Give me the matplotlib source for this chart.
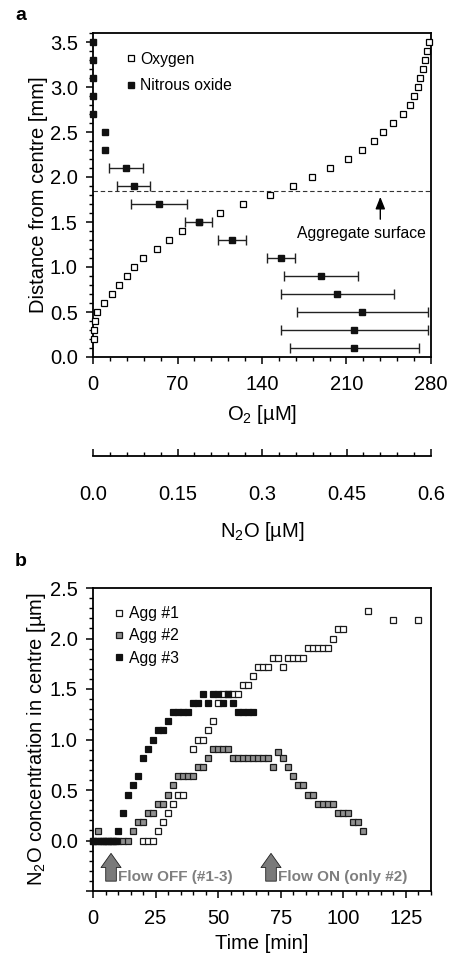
import matplotlib
matplotlib.use('agg')
import matplotlib.pyplot as plt
from matplotlib.ticker import MultipleLocator, FixedLocator, FixedFormatter
import numpy as np

plt.rcParams['font.family'] = ['Liberation Sans', 'DejaVu Sans']
plt.rcParams['font.size'] = 14.5
plt.rcParams['mathtext.fontset'] = 'custom'
plt.rcParams['mathtext.rm'] = 'Liberation Sans'

# panel a: oxygen profile (uM) vs distance from centre (mm)
o2_dist = [0.2, 0.3, 0.4, 0.5, 0.6, 0.7, 0.8, 0.9, 1.0, 1.1, 1.2, 1.3, 1.4, 1.5,
           1.6, 1.7, 1.8, 1.9, 2.0, 2.1, 2.2, 2.3, 2.4, 2.5, 2.6, 2.7, 2.8, 2.9,
           3.0, 3.1, 3.2, 3.3, 3.4, 3.5]
o2_conc = [1, 1, 1.4, 3.3, 8.9, 15.5, 21.3, 28, 33.8, 41.3, 52.7, 63.2, 74, 88,
           105, 124, 147, 166, 181.6, 196, 211.5, 223, 233, 240.6, 248.4, 256.4,
           262.5, 266, 269, 271, 273.6, 275.3, 277, 278]

# panel a: nitrous oxide profile (uM) with error
n2o_dist = [3.5, 3.3, 3.1, 2.9, 2.7, 2.5, 2.3, 2.1, 1.9, 1.7, 1.5, 1.3, 1.1,
            0.9, 0.7, 0.5, 0.3, 0.1]
n2o_conc = [0, 0, 0, 0, 0, 0.022, 0.022, 0.058, 0.072, 0.117, 0.188, 0.247,
            0.333, 0.405, 0.434, 0.478, 0.464, 0.464]
n2o_err = [0, 0, 0, 0, 0, 0, 0, 0.030, 0.030, 0.050, 0.024, 0.025, 0.025,
           0.066, 0.10, 0.116, 0.13, 0.115]

surface = 1.85

# panel b: N2O in centre over time
t1 = [20, 22, 24, 26, 28, 30, 32, 34, 36, 40, 42, 44, 46, 48, 50, 52, 54, 56,
      58, 60, 62, 64, 66, 68, 70, 72, 74, 76, 78, 80, 82, 84, 86, 88, 90, 92,
      94, 96, 98, 100, 110, 120, 130]
c1 = [0, 0, 0, 0.09, 0.18, 0.27, 0.36, 0.45, 0.45, 0.91, 1.0, 1.0, 1.09, 1.18,
      1.36, 1.45, 1.45, 1.45, 1.45, 1.54, 1.54, 1.63, 1.72, 1.72, 1.72, 1.81,
      1.81, 1.72, 1.81, 1.81, 1.81, 1.81, 1.91, 1.91, 1.91, 1.91, 1.91, 2.0,
      2.09, 2.09, 2.27, 2.18, 2.18]

t2 = [0, 2, 4, 6, 8, 10, 12, 14, 16, 18, 20, 22, 24, 26, 28, 30, 32, 34, 36,
      38, 40, 42, 44, 46, 48, 50, 52, 54, 56, 58, 60, 62, 64, 66, 68, 70, 72,
      74, 76, 78, 80, 82, 84, 86, 88, 90, 92, 94, 96, 98, 100, 102, 104, 106,
      108]
c2 = [0, 0.09, 0, 0, 0, 0, 0, 0, 0.09, 0.18, 0.18, 0.27, 0.27, 0.36, 0.36,
      0.45, 0.55, 0.64, 0.64, 0.64, 0.64, 0.73, 0.73, 0.82, 0.91, 0.91, 0.91,
      0.91, 0.82, 0.82, 0.82, 0.82, 0.82, 0.82, 0.82, 0.82, 0.73, 0.88, 0.82,
      0.73, 0.64, 0.55, 0.55, 0.45, 0.45, 0.36, 0.36, 0.36, 0.36, 0.27, 0.27,
      0.27, 0.18, 0.18, 0.09]

t3 = [0, 1, 2, 3, 4, 5, 6, 7, 8, 9, 10, 12, 14, 16, 18, 20, 22, 24, 26, 28,
      30, 32, 34, 36, 38, 40, 42, 44, 46, 48, 50, 52, 54, 56, 58, 60, 62, 64]
c3 = [0, 0, 0, 0, 0, 0, 0, 0, 0, 0, 0.09, 0.27, 0.45, 0.55, 0.64, 0.82, 0.91,
      1.0, 1.09, 1.09, 1.18, 1.27, 1.27, 1.27, 1.27, 1.36, 1.36, 1.45, 1.36,
      1.45, 1.45, 1.36, 1.45, 1.36, 1.27, 1.27, 1.27, 1.27]

fig = plt.figure(figsize=(4.49, 9.56), dpi=100)
W, H = 449.0, 956.0

def style_ax(ax):
    for s in ax.spines.values():
        s.set_linewidth(1.3)
    ax.tick_params(which='major', direction='out', length=5, width=1.1)
    ax.tick_params(which='minor', direction='out', length=3, width=1.0)

# ---------- panel a ----------
ax = fig.add_axes([93 / W, 1 - 357 / H, 338 / W, 324 / H])
style_ax(ax)
ax.set_xlim(0, 280)
ax.set_ylim(0, 3.6)
ax.xaxis.set_major_locator(MultipleLocator(70))
ax.xaxis.set_minor_locator(MultipleLocator(14))
ax.yaxis.set_major_locator(FixedLocator([0, 0.5, 1.0, 1.5, 2.0, 2.5, 3.0, 3.5]))
ax.yaxis.set_major_formatter(FixedFormatter(['0.0', '0.5', '1.0', '1.5', '2.0', '2.5', '3.0', '3.5']))
ax.yaxis.set_minor_locator(MultipleLocator(0.1))
ax.tick_params(axis='x', which='major', pad=8)
ax.tick_params(axis='y', which='major', pad=6)
ax.set_xlabel('O$_2$ [µM]', labelpad=6.5)
ax.set_ylabel('Distance from centre [mm]', labelpad=1)

ax.axhline(surface, color='#333333', lw=0.8, ls=(0, (4, 2.5)), zorder=1)
h_o2, = ax.plot(o2_conc, o2_dist, 's', ms=4.8, mfc='white', mec='black',
                mew=0.9, ls='none', clip_on=False, zorder=3)

axn = ax.twiny()
axn.set_xlim(0, 0.6)
axn.set_ylim(0, 3.6)
axn.axis('off')
has_err = [e > 0 for e in n2o_err]
axn.errorbar([c for c, k in zip(n2o_conc, has_err) if k],
             [d for d, k in zip(n2o_dist, has_err) if k],
             xerr=[e for e, k in zip(n2o_err, has_err) if k], fmt='none',
             ecolor='#222222', elinewidth=1.0, capsize=3.5, capthick=1.0,
             clip_on=False, zorder=3)
h_n2o, = axn.plot(n2o_conc, n2o_dist, 's', ms=4.8, mfc='#111111',
                  mec='#111111', ls='none', clip_on=False, zorder=4)

ax.annotate('', xy=(238, 1.81), xytext=(238, 1.5),
            arrowprops=dict(arrowstyle='-|>,head_length=0.5,head_width=0.2',
                            color='black', lw=1.0))
ax.text(222, 1.37, 'Aggregate surface', ha='center', va='center', fontsize=11.3)

ax.legend([h_o2, h_n2o], ['Oxygen', 'Nitrous oxide'], loc='upper left',
          bbox_to_anchor=(0.08, 0.962), frameon=False, fontsize=11.3,
          handlelength=0.6, handletextpad=0.3, labelspacing=0.75,
          borderaxespad=0, numpoints=1, markerscale=0.85)

# separate N2O scale
axs = fig.add_axes([93 / W, 1 - 456 / H, 338 / W, 0.001])
axs.set_xlim(0, 0.6)
for k in ['top', 'left', 'right']:
    axs.spines[k].set_visible(False)
axs.spines['bottom'].set_linewidth(1.3)
axs.set_yticks([])
axs.patch.set_visible(False)
axs.xaxis.set_major_locator(FixedLocator([0, 0.15, 0.3, 0.45, 0.6]))
axs.xaxis.set_major_formatter(FixedFormatter(['0.0', '0.15', '0.3', '0.45', '0.6']))
axs.xaxis.set_minor_locator(MultipleLocator(0.03))
axs.tick_params(which='major', direction='in', length=5, width=1.1, pad=21)
axs.tick_params(which='minor', direction='in', length=3, width=1.0)
axs.set_xlabel('N$_2$O [µM]', labelpad=11.5)

# ---------- panel b ----------
bx = fig.add_axes([93 / W, 1 - 891 / H, 338 / W, 303 / H])
style_ax(bx)
bx.set_xlim(0, 135)
bx.set_ylim(-0.5, 2.5)
bx.xaxis.set_major_locator(MultipleLocator(25))
bx.xaxis.set_minor_locator(MultipleLocator(5))
bx.yaxis.set_major_locator(FixedLocator([-0.5, 0, 0.5, 1.0, 1.5, 2.0, 2.5]))
bx.yaxis.set_major_formatter(FixedFormatter(['', '0.0', '0.5', '1.0', '1.5', '2.0', '2.5']))
bx.yaxis.set_minor_locator(MultipleLocator(0.1))
bx.tick_params(axis='x', which='major', pad=8)
bx.tick_params(axis='y', which='major', pad=6)
bx.set_xlabel('Time [min]', labelpad=4)
bx.set_ylabel('N$_2$O concentration in centre [µm]', labelpad=1)

ms_b = 4.6
bx.plot(t1, c1, 's', ms=ms_b, mfc='white', mec='#1a1a1a', mew=0.9,
        label='Agg #1', clip_on=False, zorder=3)
bx.plot(t2, c2, 's', ms=ms_b, mfc='#8f8f8f', mec='#1a1a1a', mew=0.9,
        label='Agg #2', clip_on=False, zorder=3)
bx.plot(t3, c3, 's', ms=ms_b, mfc='#111111', mec='#111111', mew=0.9,
        label='Agg #3', clip_on=False, zorder=3)
bx.legend(loc='upper left', bbox_to_anchor=(0.045, 0.96), frameon=False,
          fontsize=11.3, handlelength=0.6, handletextpad=0.3,
          labelspacing=0.45, borderaxespad=0, numpoints=1, markerscale=0.85)

arrow_style = 'simple,head_width=0.85,head_length=0.6,tail_width=0.45'
for tx, label in [(7.2, 'Flow OFF (#1-3)'), (71.1, 'Flow ON (only #2)')]:
    bx.annotate('', xy=(tx, -0.1), xytext=(tx, -0.43),
                arrowprops=dict(arrowstyle=arrow_style, fc='#7a7a7a',
                                ec='#222222', lw=0.6, mutation_scale=17))
    bx.text(tx + 2.8, -0.36, label, fontsize=11, fontweight='bold',
            color='#7f7f7f', ha='left', va='center')

fig.text(15 / W, 1 - 15 / H, 'a', fontsize=14, fontweight='bold', ha='left', va='center')
fig.text(15 / W, 1 - 562 / H, 'b', fontsize=14, fontweight='bold', ha='left', va='center')

fig.savefig('out.png', dpi=100)
